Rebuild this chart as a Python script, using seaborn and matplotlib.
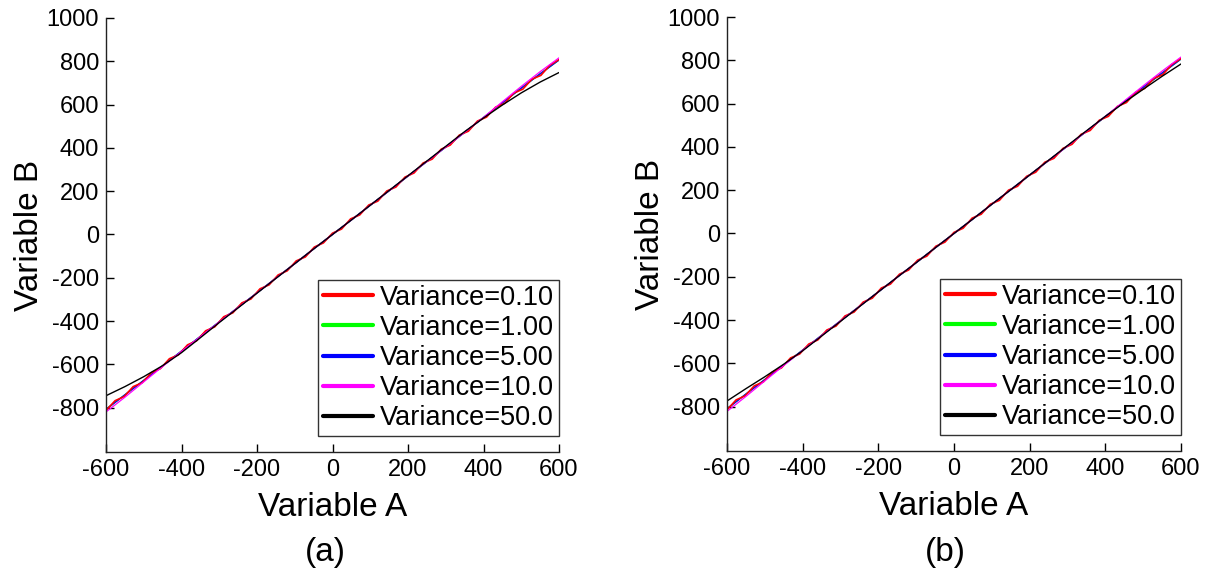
import numpy as np
import pandas as pd
import matplotlib
matplotlib.use("Agg")
import matplotlib.pyplot as plt
import seaborn as sns
from matplotlib.lines import Line2D

sns.set_style("ticks")
plt.rcParams['font.family'] = ['Liberation Sans', 'DejaVu Sans']
plt.rcParams['text.color'] = 'black'
plt.rcParams['axes.labelcolor'] = 'black'
plt.rcParams['xtick.color'] = 'black'
plt.rcParams['ytick.color'] = 'black'

# ---------------- data ----------------
labels = ["Variance=0.10", "Variance=1.00", "Variance=5.00", "Variance=10.0", "Variance=50.0"]
colors = ["#ff0000", "#00ff00", "#0000ff", "#ff00ff", "#000000"]

# coarse grid for the smooth curves
x_coarse = [-600, -550, -500, -450, -400, -350, -300, -250, -200, -150, -100, -50, 0,
            50, 100, 150, 200, 250, 300, 350, 400, 450, 500, 550, 600]
# fine grid for the rippled low-variance curve
x_fine = [-600, -576, -552, -528, -504, -480, -456, -432, -408, -384, -360, -336, -312,
          -288, -264, -240, -216, -192, -168, -144, -120, -96, -72, -48, -24, 0,
          24, 48, 72, 96, 120, 144, 168, 192, 216, 240, 264, 288, 312, 336, 360,
          384, 408, 432, 456, 480, 504, 528, 552, 576, 600]

# panel (a)
a_var010 = [-813, -768, -749, -703, -685, -639, -620, -574, -556, -510, -491, -445, -427,
            -380, -362, -316, -298, -251, -233, -187, -168, -122, -104, -58, -39, 6,
            25, 72, 90, 136, 154, 201, 219, 265, 284, 330, 348, 394, 413, 459, 477,
            524, 542, 588, 606, 653, 671, 717, 735, 782, 808]
a_var1 = [-808, -741, -674, -607, -539, -471, -404, -337, -270, -202, -135, -67, 0,
          67, 135, 202, 270, 337, 404, 472, 540, 608, 676, 742, 806]
a_var5 = [-808, -741, -674, -607, -539, -471, -404, -337, -270, -202, -135, -67, 0,
          67, 135, 202, 270, 337, 404, 472, 540, 608, 676, 742, 806]
a_var10 = [-820, -752, -681, -610, -540, -472, -404, -337, -270, -202, -135, -67, 0,
           67, 135, 202, 270, 337, 404, 472, 541, 613, 684, 752, 816]
a_var50 = [-745, -703, -657, -606, -546, -477, -407, -339, -271, -203, -135, -67, 0,
           67, 135, 203, 271, 339, 407, 475, 538, 598, 654, 704, 748]

# panel (b)
b_var010 = [-815, -769, -750, -704, -686, -640, -621, -575, -557, -511, -492, -446, -428,
            -381, -363, -317, -299, -252, -234, -188, -169, -123, -105, -59, -40, 5,
            24, 71, 89, 135, 153, 200, 218, 264, 283, 329, 347, 393, 412, 458, 476,
            523, 541, 587, 605, 652, 670, 716, 734, 781, 808]
b_var1 = [-810, -742, -675, -607, -539, -471, -404, -337, -270, -202, -135, -67, 0,
          67, 135, 202, 270, 337, 404, 472, 540, 608, 675, 741, 806]
b_var5 = [-810, -742, -675, -607, -539, -471, -404, -337, -270, -202, -135, -67, 0,
          67, 135, 202, 270, 337, 404, 472, 540, 608, 675, 741, 806]
b_var10 = [-822, -753, -681, -610, -540, -472, -404, -337, -270, -202, -135, -67, 0,
           67, 135, 202, 270, 337, 404, 472, 541, 612, 682, 750, 815]
b_var50 = [-774, -717, -662, -604, -542, -474, -406, -338, -270, -202, -135, -67, 0,
           67, 135, 202, 270, 338, 406, 474, 541, 605, 666, 726, 783]

xticks = [-600, -400, -200, 0, 200, 400, 600]
yticks = [-800, -600, -400, -200, 0, 200, 400, 600, 800, 1000]
panels = [
    ("(a)", [a_var010, a_var1, a_var5, a_var10, a_var50]),
    ("(b)", [b_var010, b_var1, b_var5, b_var10, b_var50]),
]

# ---------------- figure ----------------
fig = plt.figure(figsize=(12.1, 5.79), dpi=100)
W, H = 1210, 579
axes_px = [(106, 18, 559, 452), (727, 17, 1181, 451)]
caption_x = [325, 945]
draw_order = [1, 2, 0, 3, 4]

for (cap, series), (l, t, r, b), cx in zip(panels, axes_px, caption_x):
    ax = fig.add_axes([l / W, 1 - b / H, (r - l) / W, (b - t) / H])
    for k in draw_order:
        ys, col = series[k], colors[k]
        xs = x_fine if k == 0 else x_coarse
        df = pd.DataFrame({"x": xs, "y": ys})
        sns.lineplot(data=df, x="x", y="y", ax=ax, color=col,
                     lw=1.2 if k == 0 else (0.9 if k == 3 else 1.0),
                     legend=False, sort=False, estimator=None)
    ax.set_xlim(-600, 600)
    ax.set_ylim(-1005, 1000)
    ax.set_xticks(xticks)
    ax.set_yticks(yticks)
    ax.set_xticklabels([str(v) for v in xticks])
    ax.set_yticklabels([str(v) for v in yticks])
    ax.tick_params(direction="in", length=6, width=1, labelsize=17, pad=5,
                   colors="black")
    for s in ["top", "right"]:
        ax.spines[s].set_visible(False)
    for s in ["left", "bottom"]:
        ax.spines[s].set_color("#222222")
        ax.spines[s].set_linewidth(1.0)
    ax.set_xlabel("Variable A", fontsize=24, labelpad=8, color="black")
    ax.set_ylabel("Variable B", fontsize=24, labelpad=1, color="black")
    handles = [Line2D([0], [0], color=c, lw=3) for c in colors]
    leg = ax.legend(handles, labels, loc="lower right",
                    bbox_to_anchor=(1.0, 16 / 434), borderaxespad=0,
                    fontsize=19.5, frameon=True, fancybox=False, framealpha=1,
                    edgecolor="#333333", handlelength=1.85, handletextpad=0.25,
                    borderpad=0.18, labelspacing=0.15)
    leg.get_frame().set_linewidth(1.0)
    for txt in leg.get_texts():
        txt.set_color("black")
    fig.text(cx / W, 1 - 552 / H, cap, fontsize=24, ha="center", va="center",
             color="black")

fig.savefig("out.png", dpi=100)
